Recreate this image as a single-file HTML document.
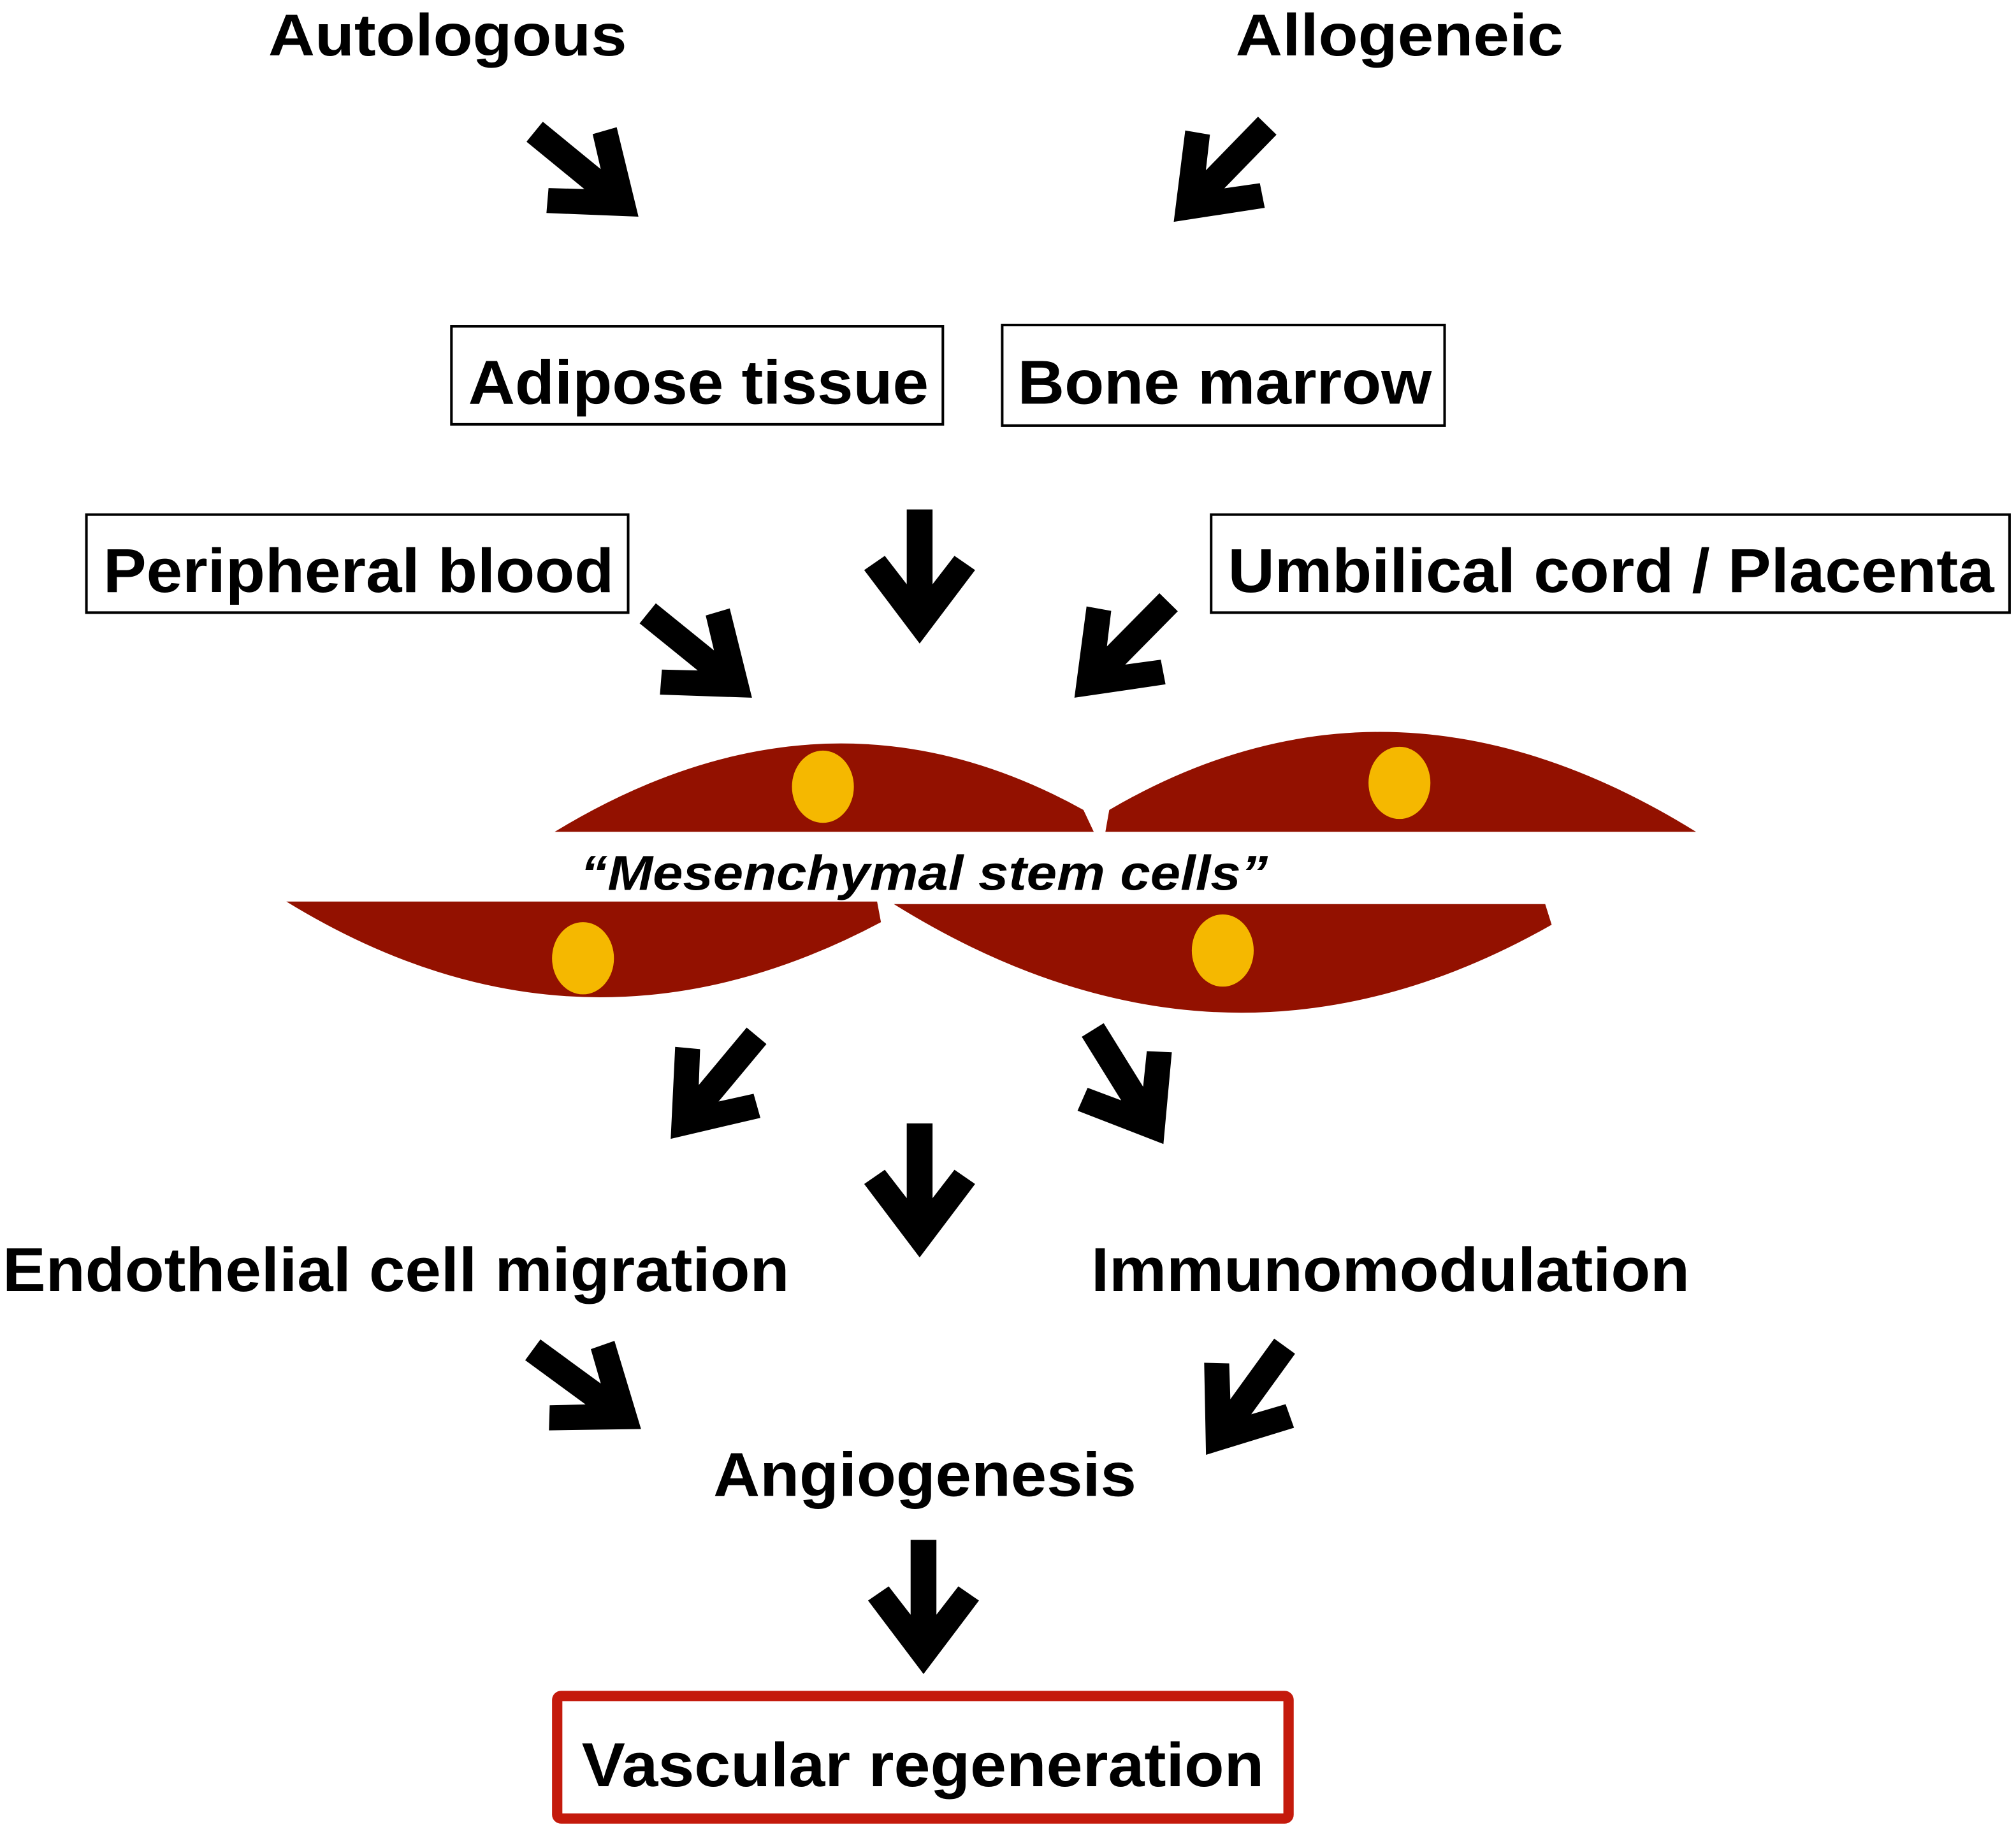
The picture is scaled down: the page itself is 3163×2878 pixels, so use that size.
<!DOCTYPE html>
<html><head><meta charset="utf-8"><style>
html,body{margin:0;padding:0;background:#fff;}
svg{display:block;}
text{font-family:"Liberation Sans",Arial,sans-serif;font-weight:bold;fill:#000;}
</style></head><body>
<svg width="3163" height="2878" viewBox="0 0 1563 1422" preserveAspectRatio="none" xmlns="http://www.w3.org/2000/svg">
<defs>
<polygon id="ar" points="0,0 -43,-57 -27,-68 -10,-46 -10,-104 10,-104 10,-46 27,-68 43,-57" fill="#000"/>
</defs>
<rect width="1563" height="1422" fill="#fff"/>
<!-- texts -->
<text x="208" y="43" font-size="46" textLength="278" lengthAdjust="spacingAndGlyphs">Autologous</text>
<text x="958" y="43" font-size="46" textLength="254" lengthAdjust="spacingAndGlyphs">Allogeneic</text>
<rect x="350" y="253" width="381" height="76" fill="none" stroke="#000" stroke-width="2"/>
<text x="363" y="313" font-size="48" textLength="357" lengthAdjust="spacingAndGlyphs">Adipose tissue</text>
<rect x="777" y="252" width="343" height="78" fill="none" stroke="#000" stroke-width="2"/>
<text x="789" y="313" font-size="48" textLength="321" lengthAdjust="spacingAndGlyphs">Bone marrow</text>
<rect x="67" y="399" width="420" height="76" fill="none" stroke="#000" stroke-width="2"/>
<text x="80" y="459" font-size="48" textLength="396" lengthAdjust="spacingAndGlyphs">Peripheral blood</text>
<rect x="939" y="399" width="619" height="76" fill="none" stroke="#000" stroke-width="2"/>
<text x="952" y="459" font-size="48" textLength="594" lengthAdjust="spacingAndGlyphs">Umbilical cord / Placenta</text>
<!-- cells -->
<path d="M430,645 Q640,517 840,628 L848,645 Z" fill="#931100"/>
<path d="M857,645 L860,628 Q1080,499 1315,645 Z" fill="#931100"/>
<path d="M222,699 L680,699 L683,715 Q450,839 222,699 Z" fill="#931100"/>
<path d="M693,701 L1198,701 L1203,717 Q950,861 693,701 Z" fill="#931100"/>
<ellipse cx="638" cy="610" rx="24" ry="28" fill="#f5b800"/>
<ellipse cx="1085" cy="607" rx="24" ry="28" fill="#f5b800"/>
<ellipse cx="452" cy="743" rx="24" ry="28" fill="#f5b800"/>
<ellipse cx="948" cy="737" rx="24" ry="28" fill="#f5b800"/>
<text x="450" y="690" font-size="38" font-style="italic" textLength="533" lengthAdjust="spacingAndGlyphs">“Mesenchymal stem cells”</text>
<text x="2" y="1001" font-size="48" textLength="610" lengthAdjust="spacingAndGlyphs">Endothelial cell migration</text>
<text x="846" y="1001" font-size="48" textLength="464" lengthAdjust="spacingAndGlyphs">Immunomodulation</text>
<text x="553" y="1160" font-size="48" textLength="328" lengthAdjust="spacingAndGlyphs">Angiogenesis</text>
<rect x="432" y="1315" width="567" height="95" fill="none" stroke="#c41a0c" stroke-width="8" rx="3"/>
<text x="451" y="1385" font-size="48" textLength="529" lengthAdjust="spacingAndGlyphs">Vascular regeneration</text>
<!-- arrows -->
<use href="#ar" transform="translate(495,168) rotate(-50.7)"/>
<use href="#ar" transform="translate(910,172) rotate(44.2)"/>
<use href="#ar" transform="translate(713,499)"/>
<use href="#ar" transform="translate(583,541) rotate(-51)"/>
<use href="#ar" transform="translate(833,541) rotate(44.6)"/>
<use href="#ar" transform="translate(520,883) rotate(39.8)"/>
<use href="#ar" transform="translate(902,887) rotate(-31.8)"/>
<use href="#ar" transform="translate(713,975)"/>
<use href="#ar" transform="translate(497,1108) rotate(-53.8)"/>
<use href="#ar" transform="translate(935,1128) rotate(35.9)"/>
<use href="#ar" transform="translate(716,1298)"/>
</svg>
</body></html>
